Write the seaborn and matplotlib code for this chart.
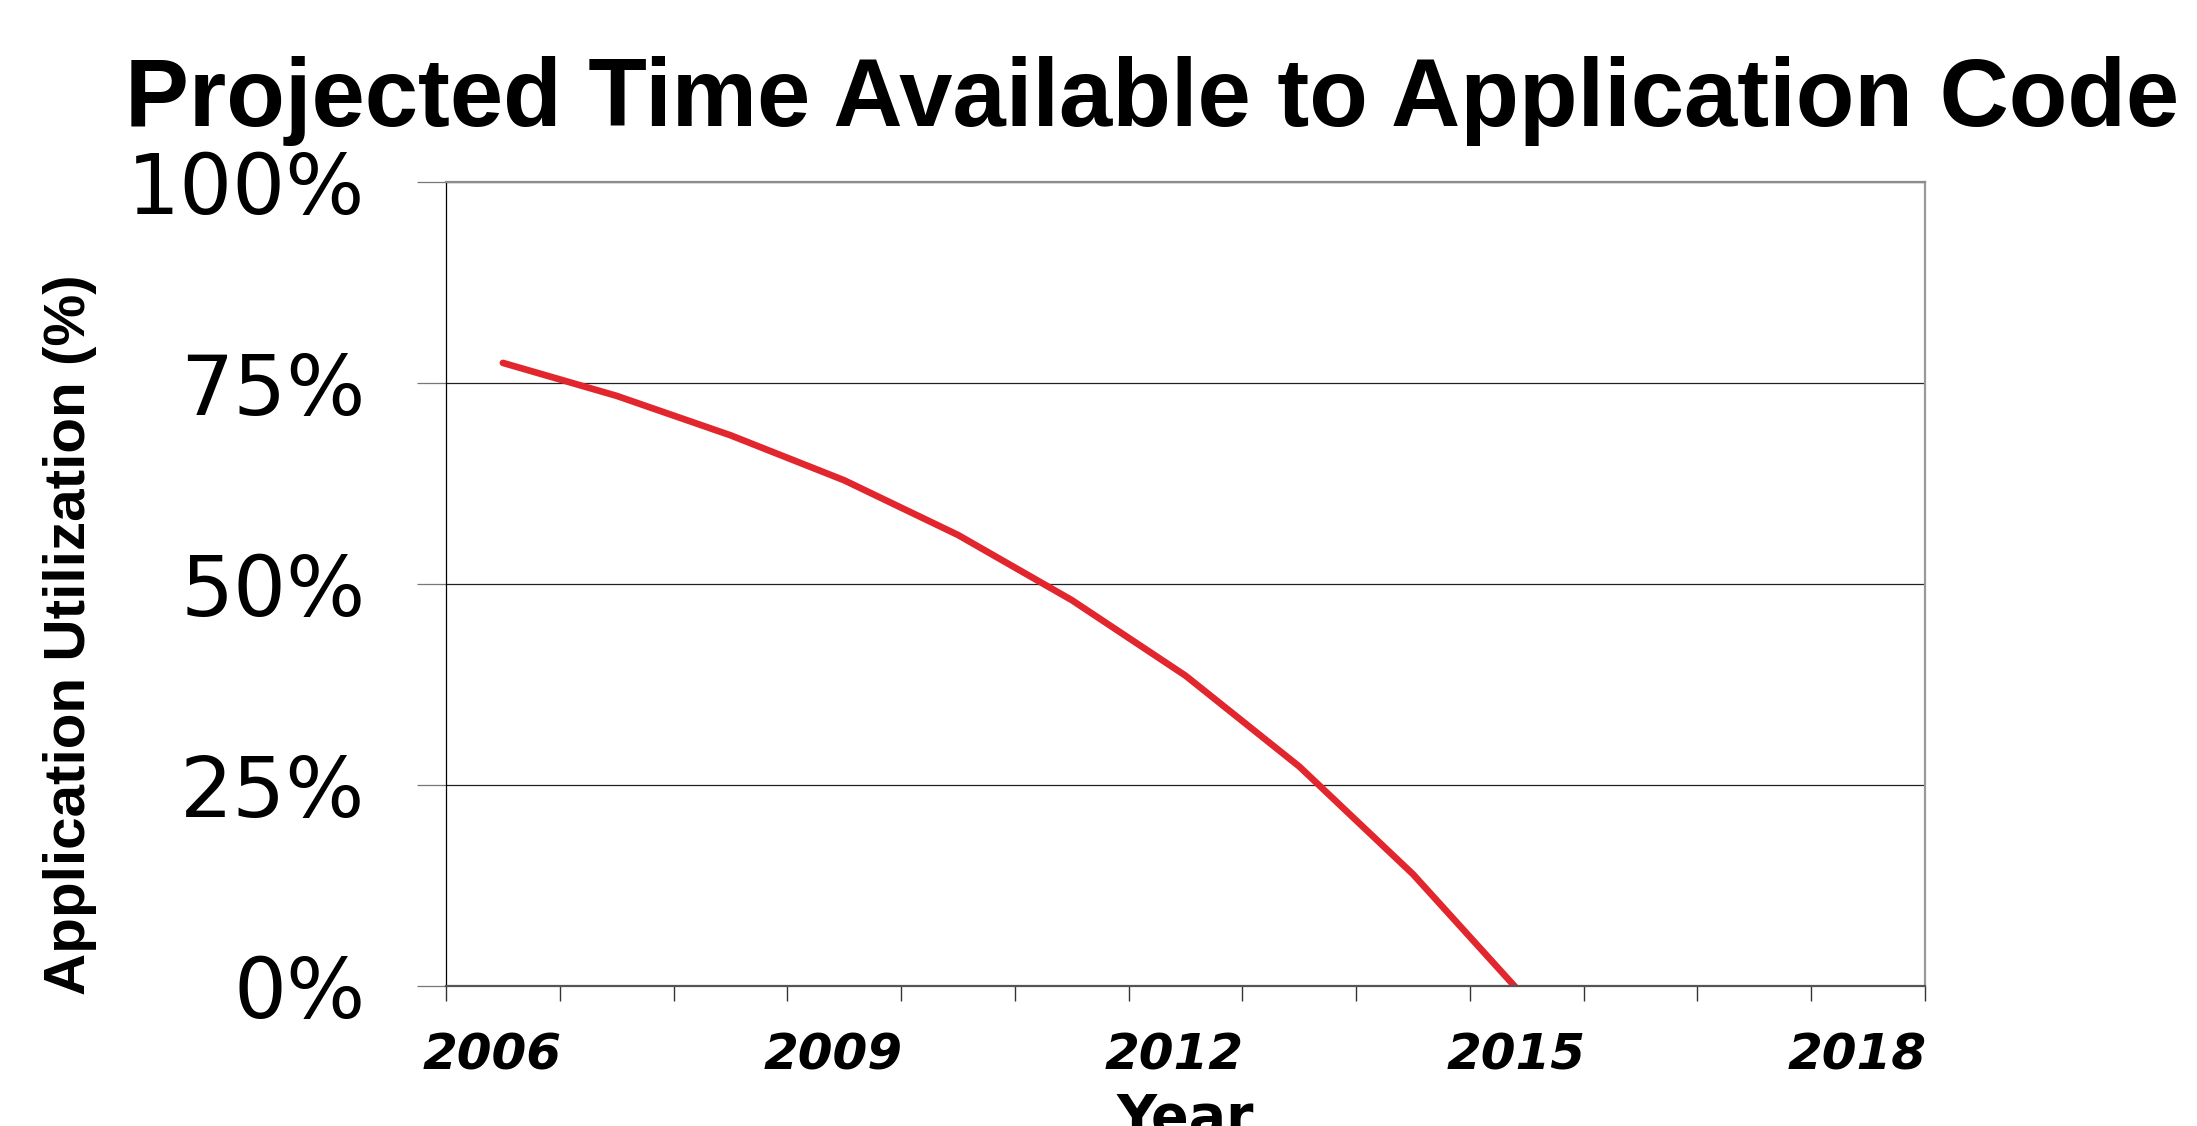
import matplotlib
matplotlib.use('Agg')
from matplotlib import pyplot as plt
import matplotlib.transforms as mtransforms
import seaborn as sns

# category axis runs 2006..2018, projection only reaches 2015
years = list(range(2006, 2019))
label_years = [2006, 2009, 2012, 2015, 2018]
proj_years = [2006, 2007, 2008, 2009, 2010, 2011, 2012, 2013, 2014, 2015]
utilization = [77.5, 73.4, 68.5, 62.9, 56.1, 48.0, 38.6, 27.3, 13.9, -1.7]
y_ticks = [0, 25, 50, 75, 100]
y_ticklabels = ['0%', '25%', '50%', '75%', '100%']

sns.set_style('white')
plt.rcParams['font.family'] = ['DejaVu Sans']
plt.rcParams['text.color'] = 'black'
plt.rcParams['axes.labelcolor'] = 'black'
plt.rcParams['xtick.labelcolor'] = 'black'
plt.rcParams['ytick.labelcolor'] = 'black'

W, H = 2197, 1126
fig = plt.figure(figsize=(W / 100, H / 100), dpi=100)
ax = fig.add_axes([446 / W, (H - 986) / H, (1925 - 446) / W, (986 - 182) / H])

sns.lineplot(x=proj_years, y=utilization, color='#E2262E', linewidth=4.8, ax=ax)

ax.set_xlim(years[0] - 0.5, years[-1] + 0.5)
ax.set_ylim(0, 100)

# y axis: percent labels, outward ticks, horizontal grid
ax.set_yticks(y_ticks)
ax.set_yticklabels(y_ticklabels, fontsize=60)
ax.tick_params(axis='y', which='major', direction='out', length=20.9, width=0.9,
               color='#777777', pad=37, left=True)
ax.yaxis.grid(True, color='#222222', linewidth=0.9)
ax.xaxis.grid(False)

# x axis: ticks between categories, labels every third year
ax.set_xticks(label_years)
ax.set_xticklabels([str(y) for y in label_years], fontsize=36, fontweight='bold',
                   fontstyle='oblique')
ax.tick_params(axis='x', which='major', length=0, pad=33)
ax.set_xticks([y - 0.5 for y in years] + [years[-1] + 0.5], minor=True)
ax.tick_params(axis='x', which='minor', direction='out', length=10.8, width=1.0,
               color='#333333', bottom=True)
# labels sit a little left of the category centres in the original
shift = mtransforms.ScaledTranslation(-0.11, 0, fig.dpi_scale_trans)
for lbl in ax.get_xticklabels():
    lbl.set_transform(lbl.get_transform() + shift)

ax.spines['left'].set_color('black')
ax.spines['left'].set_linewidth(0.9)
ax.spines['top'].set_color('#8c8c8c')
ax.spines['top'].set_linewidth(1.6)
ax.spines['right'].set_color('#999999')
ax.spines['right'].set_linewidth(1.6)
ax.spines['bottom'].set_color('#555555')
ax.spines['bottom'].set_linewidth(1.6)

ax.set_ylabel('Application Utilization (%)', fontsize=42, fontweight='bold',
              family='Liberation Sans')
ax.yaxis.set_label_coords((97 - 446) / (1925 - 446), (986 - 635) / (986 - 182))

fig.text(0.5394, (H - 1092) / H, 'Year', fontsize=40, fontweight='bold',
         ha='center', va='top')
fig.text(1152 / W, (H - 126) / H, 'Projected Time Available to Application Code',
         fontsize=69, fontweight='bold', family='Liberation Sans',
         ha='center', va='baseline')

fig.savefig('out.png', dpi=100)
